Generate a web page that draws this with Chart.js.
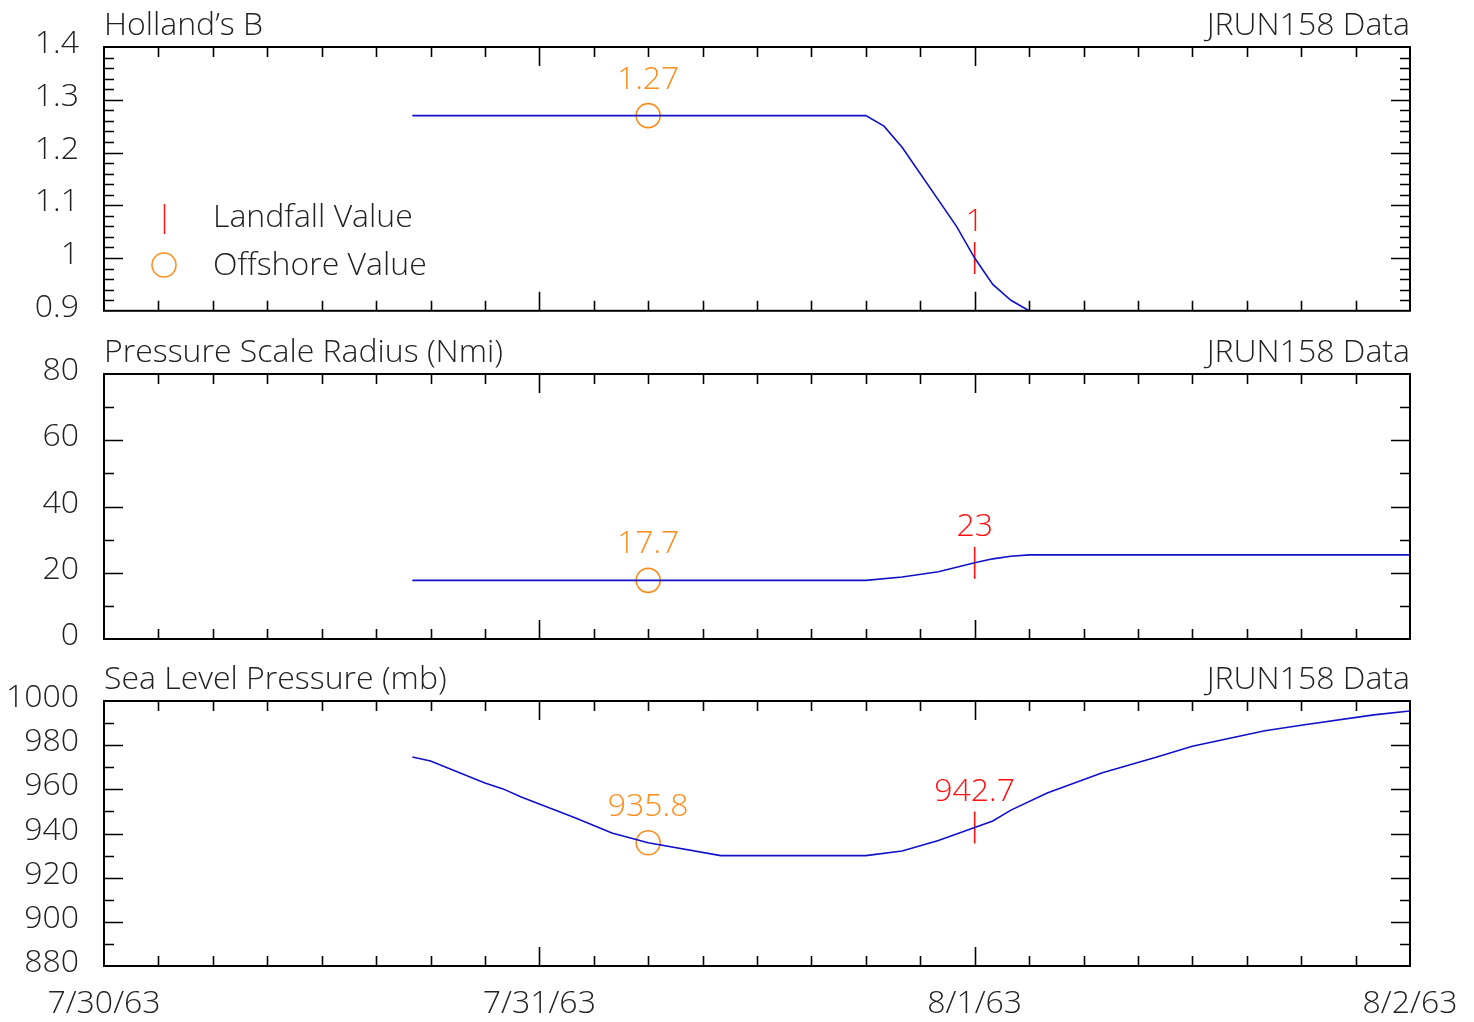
<!DOCTYPE html>
<html>
<head>
<meta charset="utf-8">
<script src="https://cdn.jsdelivr.net/npm/chart.js@4.4.0/dist/chart.umd.min.js"></script>
<style>
  body { margin: 0; background: #fff; }
  .panel { position: absolute; left: 0; }
</style>
</head>
<body>
<canvas id="c1" class="panel" width="1474" height="330" style="top:0px"></canvas>
<canvas id="c2" class="panel" width="1474" height="330" style="top:330px"></canvas>
<canvas id="c3" class="panel" width="1474" height="362" style="top:660px"></canvas>
<script>
// hours since 7/30/63 00:00
const dayLabels = ["7/30/63", "7/31/63", "8/1/63", "8/2/63"];
const dayHours = [0, 24, 48, 72];

const bHours = [17, 42, 43, 44, 47, 48, 49, 50, 51, 72];
const bValues = [1.27, 1.27, 1.25, 1.21, 1.06, 1.0, 0.95, 0.92, 0.9, 0.9];

const rHours = [17, 42, 44, 46, 48, 49, 50, 51, 72];
const rValues = [17.7, 17.7, 18.7, 20.3, 23, 24.2, 25, 25.4, 25.4];

const pHours = [17, 18, 21, 22, 23, 26, 28, 30, 34, 42, 44, 46, 48, 49, 50, 52, 55, 58, 60, 64, 66, 70, 72];
const pValues = [974.6, 972.8, 962.9, 960.2, 956.5, 947.0, 940.2, 935.8, 930, 930, 932.1, 936.8, 942.7,
                 945.7, 950.6, 958.3, 967.4, 974.5, 979.5, 986.5, 989, 993.7, 995.5];

const offshoreHour = 30;
const landfallHour = 48;
const offshoreValues = [1.27, 17.7, 935.8];
const landfallValues = [1, 23, 942.7];
const offshoreText = ["1.27", "17.7", "935.8"];
const landfallText = ["1", "23", "942.7"];

const panelTitles = ["Holland\u2019s B", "Pressure Scale Radius (Nmi)", "Sea Level Pressure (mb)"];
const runLabel = "JRUN158 Data";

const bTicks = [0.9, 1, 1.1, 1.2, 1.3, 1.4];
const bTickLabels = ["0.9", "1", "1.1", "1.2", "1.3", "1.4"];
const rTicks = [0, 20, 40, 60, 80];
const pTicks = [880, 900, 920, 940, 960, 980, 1000];

const FONT = "'Open Sans', 'Liberation Sans', sans-serif";
const WEIGHT = "300";
const SIZE = 32;
const BLUE = "#1010c8";
const ORANGE = "#ff8c1a";
const RED = "#ff1010";
const INK = "#222";

function pts(h, v) { return h.map((x, i) => ({ x: x, y: v[i] })); }

// frame, inward ticks, titles, value labels
const decor = {
  id: "decor",
  afterDatasetsDraw(chart, args, o) {
    const ctx = chart.ctx, a = chart.chartArea;
    const xs = chart.scales.x, ys = chart.scales.y;
    ctx.save();
    ctx.strokeStyle = "#000";
    ctx.lineWidth = 1.6;
    // x ticks every 3h, longer at days
    for (let i = 1; i < 24; i++) {
      const px = Math.round(xs.getPixelForValue(i * 3)) + 0.5;
      const len = i % 8 === 0 ? 19 : 10;
      ctx.beginPath();
      ctx.moveTo(px, a.top); ctx.lineTo(px, a.top + len);
      ctx.moveTo(px, a.bottom); ctx.lineTo(px, a.bottom - len);
      ctx.stroke();
    }
    // y ticks
    const n = Math.round((o.max - o.min) / o.minor);
    for (let i = 1; i < n; i++) {
      const py = Math.round(ys.getPixelForValue(o.min + i * o.minor)) + 0.5;
      const len = i % o.per === 0 ? 19 : 10;
      ctx.beginPath();
      ctx.moveTo(a.left, py); ctx.lineTo(a.left + len, py);
      ctx.moveTo(a.right, py); ctx.lineTo(a.right - len, py);
      ctx.stroke();
    }
    ctx.lineWidth = 2;
    ctx.strokeRect(a.left, a.top, a.right - a.left, a.bottom - a.top);

    // titles
    ctx.font = WEIGHT + " " + SIZE + "px " + FONT;
    ctx.fillStyle = INK;
    ctx.textBaseline = "alphabetic";
    ctx.textAlign = "left";
    ctx.fillText(o.title, a.left, a.top - 12);
    ctx.textAlign = "right";
    ctx.fillText(runLabel, a.right, a.top - 12);

    // value labels
    ctx.textAlign = "center";
    ctx.textBaseline = "middle";
    const off = chart.getDatasetMeta(1).data[0];
    ctx.fillStyle = ORANGE;
    ctx.fillText(o.offText, off.x, off.y - 36);
    const land = chart.getDatasetMeta(2).data[0];
    ctx.fillStyle = RED;
    ctx.fillText(o.landText, land.x, land.y - 36);

    // legend (top panel only)
    if (o.legend) {
      ctx.textAlign = "left";
      ctx.fillStyle = INK;
      ctx.strokeStyle = RED;
      ctx.lineWidth = 1.5;
      ctx.beginPath(); ctx.moveTo(164.5, 204); ctx.lineTo(164.5, 234); ctx.stroke();
      ctx.fillText("Landfall Value", 213, 218);
      ctx.strokeStyle = ORANGE;
      ctx.beginPath(); ctx.arc(164, 265, 12, 0, Math.PI * 2); ctx.stroke();
      ctx.fillText("Offshore Value", 213, 266);
    }
    ctx.restore();
  }
};

function makePanel(id, k, hours, values, yMin, yMax, ticks, tickLabels, minor, per, top, bottom, showX) {
  const datasets = [
    { data: pts(hours, values), showLine: true, borderColor: BLUE, borderWidth: 1.6,
      pointRadius: 0, tension: 0, fill: false },
    { data: [{ x: offshoreHour, y: offshoreValues[k] }], pointStyle: "circle", pointRadius: 12,
      borderColor: ORANGE, backgroundColor: "rgba(0,0,0,0)", borderWidth: 1.6 },
    { data: [{ x: landfallHour, y: landfallValues[k] }], pointStyle: "line", pointRotation: 90,
      pointRadius: 16, borderColor: RED, backgroundColor: RED, borderWidth: 1.6 }
  ];
  return new Chart(document.getElementById(id).getContext("2d"), {
    type: "scatter",
    data: { datasets: datasets },
    options: {
      responsive: false,
      animation: false,
      layout: { padding: { top: top, right: 64, bottom: 0, left: 0 } },
      plugins: {
        legend: { display: false },
        tooltip: { enabled: false },
        decor: { min: yMin, max: yMax, minor: minor, per: per, title: panelTitles[k],
                 offText: offshoreText[k], landText: landfallText[k], legend: k === 0 }
      },
      scales: {
        x: {
          type: "linear", min: 0, max: 72,
          grid: { display: false, drawTicks: true, tickLength: 19 },
          border: { display: false },
          afterBuildTicks: s => { s.ticks = dayHours.map(v => ({ value: v })); },
          ticks: { display: showX, autoSkip: false, maxRotation: 0, padding: 0, color: INK,
                   font: { family: FONT, size: SIZE, weight: WEIGHT },
                   callback: (v, i) => dayLabels[i] },
          afterFit: s => { s.height = bottom; }
        },
        y: {
          type: "linear", min: yMin, max: yMax,
          grid: { display: false, drawTicks: true, tickLength: 25 },
          border: { display: false },
          afterBuildTicks: s => { s.ticks = ticks.map(v => ({ value: v })); },
          ticks: { padding: 0, labelOffset: -3, color: INK,
                   font: { family: FONT, size: SIZE, weight: WEIGHT },
                   callback: (v, i) => tickLabels[i] },
          afterFit: s => { s.width = 104; }
        }
      }
    },
    plugins: [decor]
  });
}

makePanel("c1", 0, bHours, bValues, 0.9, 1.4, bTicks, bTickLabels, 0.02, 5, 47, 17, false);
makePanel("c2", 1, rHours, rValues, 0, 80, rTicks, rTicks.map(String), 10, 2, 44, 21, false);
makePanel("c3", 2, pHours, pValues, 880, 1000, pTicks, pTicks.map(String), 10, 2, 41, 56, true);
</script>
</body>
</html>
